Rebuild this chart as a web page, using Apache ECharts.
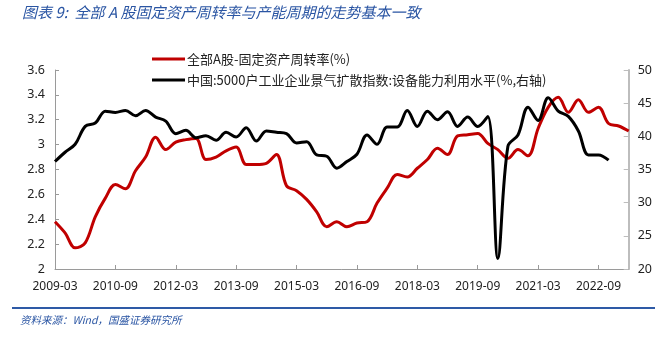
<!DOCTYPE html>
<html><head><meta charset="utf-8">
<script src="https://cdn.jsdelivr.net/npm/echarts@6/dist/echarts.min.js"></script>
<style>html,body{margin:0;padding:0;background:#fff}#c{width:655px;height:338px}</style>
</head><body><div id="c"></div>
<script>
// quarterly categories 2009-03 .. 2023-06
var categories = [];
for (var y = 2009; y <= 2023; y++) { ['03','06','09','12'].forEach(function(m){ categories.push(y + '-' + m); }); }
categories = categories.slice(0, 58);

var turnoverSeries = [2.38,2.29,2.17,2.21,2.42,2.57,2.68,2.645,2.79,2.90,
  3.06,2.96,3.02,3.04,3.05,2.88,2.90,2.95,2.98,2.84,
  2.84,2.85,2.92,2.67,2.63,2.56,2.46,2.34,2.38,2.34,
  2.37,2.38,2.53,2.65,2.76,2.74,2.81,2.88,2.97,2.92,
  3.07,3.08,3.09,3.01,2.96,2.89,2.96,2.91,3.13,3.30,
  3.38,3.26,3.36,3.26,3.30,3.17,3.15,3.11];

var capacitySeries = [36.2,37.6,38.8,41.5,42.0,43.8,43.6,43.9,43.1,43.9,
  42.9,42.3,40.4,40.9,39.8,40.1,39.4,40.6,39.9,41.3,
  39.3,40.8,40.6,40.4,39.0,39.2,37.2,37.0,35.2,36.2,
  37.3,40.2,38.8,41.4,41.4,43.9,41.5,43.8,42.5,43.7,
  41.5,42.9,41.5,43.0,21.6,38.5,40.2,44.4,42.4,45.8,
  43.8,43.0,40.8,37.2,37.2,36.4];

var seriesNames = ['全部A股-固定资产周转率(%)', '中国:5000户工业企业景气扩散指数:设备能力利用水平(%,右轴)'];
var titleText = '图表 9:  全部 A 股固定资产周转率与产能周期的走势基本一致';
var sourceText = '资料来源：Wind，国盛证券研究所';

var blue = '#2A55A3';
var chart = echarts.init(document.getElementById('c'), null, {renderer: 'canvas'});
chart.setOption({
  animation: false,
  backgroundColor: '#fff',
  textStyle: {fontFamily: 'Noto Sans, Noto Sans CJK SC, sans-serif'},
  graphic: [
    {type: 'text', left: 22, top: 5, style: {text: titleText, fill: blue, font: 'italic 15px "Noto Sans CJK SC"'}},
    {type: 'rect', left: 12, top: 307, shape: {width: 643, height: 2}, style: {fill: '#2E5AA6'}},
    {type: 'text', left: 20, top: 315, style: {text: sourceText, fill: blue, font: 'italic 10.5px "Noto Sans CJK SC"'}}
  ],
  legend: {
    orient: 'vertical', left: 147, top: 47, itemWidth: 33, itemHeight: 3, itemGap: 7,
    icon: 'rect',
    textStyle: {fontSize: 13, color: '#222', fontFamily: 'Noto Sans CJK SC', lineHeight: 14, padding: [0, 0, 0, -3]},
    data: seriesNames
  },
  grid: {left: 55, right: 25, top: 70, bottom: 69, containLabel: false},
  xAxis: {
    type: 'category', data: categories, boundaryGap: false,
    axisLine: {lineStyle: {color: '#9a9a9a', width: 1}},
    axisTick: {inside: true, length: 4, interval: 5, lineStyle: {color: '#9a9a9a'}},
    axisLabel: {interval: 5, color: '#222', fontSize: 12, margin: 12, fontFamily: 'Noto Sans'},
    splitLine: {show: false}
  },
  yAxis: [
    {type: 'value', min: 2, max: 3.6, interval: 0.2, position: 'left',
     axisLine: {show: true, lineStyle: {color: '#9a9a9a'}},
     axisTick: {show: true, inside: true, length: 4, lineStyle: {color: '#9a9a9a'}},
     axisLabel: {color: '#222', fontSize: 12.5, margin: 10, fontFamily: 'Noto Sans'},
     splitLine: {show: false}},
    {type: 'value', min: 20, max: 50, interval: 5, position: 'right',
     axisLine: {show: true, lineStyle: {color: '#bdbdbd', width: 2}},
     axisTick: {show: true, inside: true, length: 5, lineStyle: {color: '#bdbdbd'}},
     axisLabel: {color: '#222', fontSize: 12.5, margin: 9, fontFamily: 'Noto Sans'},
     splitLine: {show: false}}
  ],
  series: [
    {name: seriesNames[0], type: 'line', yAxisIndex: 0, data: turnoverSeries,
     showSymbol: false, smooth: 0.35, color: '#C00000', lineStyle: {width: 3, color: '#C00000'}},
    {name: seriesNames[1], type: 'line', yAxisIndex: 1, data: capacitySeries,
     showSymbol: false, smooth: 0.35, color: '#000', lineStyle: {width: 3, color: '#000'}}
  ]
});
</script></body></html>
